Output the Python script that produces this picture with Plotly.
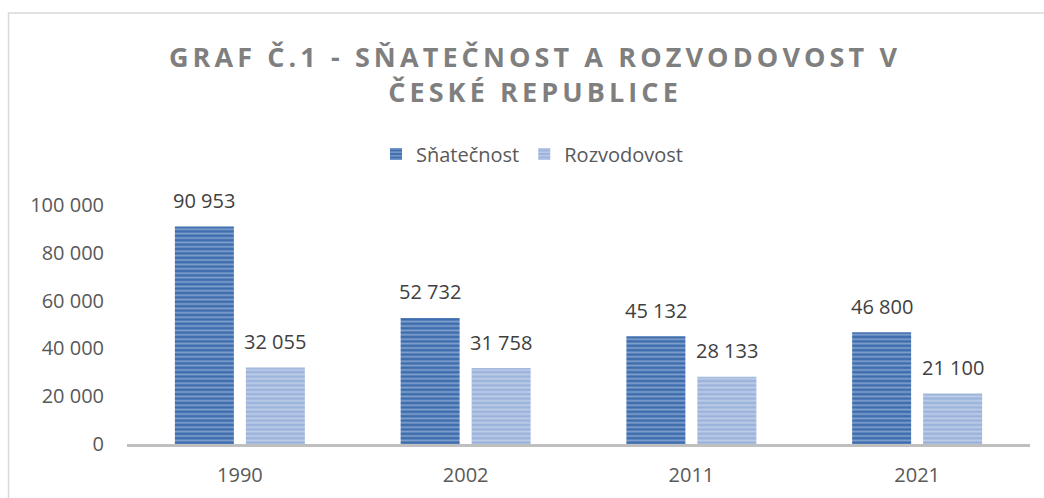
import plotly.graph_objects as go

years = ["1990", "2002", "2011", "2021"]
snatecnost = [90953, 52732, 45132, 46800]
rozvodovost = [32055, 31758, 28133, 21100]
series_names = ["Sňatečnost", "Rozvodovost"]
y_ticks = [0, 20000, 40000, 60000, 80000, 100000]

title_lines = ["GRAF Č.1 - SŇATEČNOST A ROZVODOVOST V", "ČESKÉ REPUBLICE"]

FONT = "Open Sans"
L, R, T, B = 127, 14, 205, 54
W, H = 1044, 498
pw = W - L - R
ph = H - T - B

BARGAP = 0.371
GROUPGAP = 0.169


def fmt(v):
    return f"{v:,}".replace(",", " ")


fig = go.Figure()
fig.add_trace(go.Bar(
    x=years, y=snatecnost, name=series_names[0],
    marker=dict(color="#3E6DAE", line=dict(width=0),
                pattern=dict(shape="-", size=4.4, solidity=0.4,
                             bgcolor="#3E6DAE", fgcolor="#C6D4EB")),
))
fig.add_trace(go.Bar(
    x=years, y=rozvodovost, name=series_names[1],
    marker=dict(color="#9CB3DC", line=dict(width=0),
                pattern=dict(shape="-", size=4.4, solidity=0.4,
                             bgcolor="#9CB3DC", fgcolor="#E0E7F4")),
))

# data labels, placed through the data axes (category serial numbers),
# shifted to each bar of the group
slot_px = (1 - BARGAP) * (pw / len(years)) / 2
for vals, sign in ((snatecnost, -1), (rozvodovost, 1)):
    for i, v in enumerate(vals):
        fig.add_annotation(x=i, y=v, xref="x", yref="y", text=fmt(v),
                           showarrow=False, xanchor="center", yanchor="middle",
                           xshift=sign * slot_px / 2, yshift=26,
                           font=dict(family=FONT, size=20, color="#404040"))

title_text = "<br>".join(
    f"<span style='letter-spacing:4.1px'>{t}</span>" for t in title_lines)

fig.update_layout(
    width=W, height=H,
    margin=dict(l=L, r=R, t=T, b=B, autoexpand=False),
    paper_bgcolor="white", plot_bgcolor="white",
    separators=", ",
    barmode="group", bargap=BARGAP, bargroupgap=GROUPGAP,
    title=dict(text=title_text, x=(535 - L) / pw, xref="paper", xanchor="center",
               y=1 - 67 / H, yref="container", yanchor="middle",
               font=dict(family=FONT, size=27, color="#7F7F7F", weight="bold")),
    legend=dict(orientation="h", x=(532 - L) / pw, xanchor="center",
                y=(H - B - 154) / ph, yanchor="middle",
                font=dict(family=FONT, size=20, color="#595959"),
                bgcolor="rgba(0,0,0,0)"),
    font=dict(family=FONT, color="#595959"),
    showlegend=True,
)
fig.update_xaxes(type="category", range=[-0.5, len(years) - 0.5],
                 automargin=False,
                 showgrid=False, showline=True,
                 linecolor="#BFBFBF", linewidth=2.5,
                 ticks="", tickfont=dict(family=FONT, size=20, color="#595959"),
                 ticklabelstandoff=11)
fig.update_yaxes(range=[0, 100000], tickvals=y_ticks, tickformat=",",
                 automargin=False,
                 showgrid=False, showline=False, zeroline=False, ticks="",
                 tickfont=dict(family=FONT, size=20, color="#595959"),
                 ticklabelstandoff=22)

# chart-area frame
fig.add_shape(type="rect", xref="paper", yref="paper",
              x0=(8.5 - L) / pw, x1=1.2, y0=-0.5, y1=(H - B - 13) / ph,
              line=dict(color="#D9D9D9", width=1.5), fillcolor="rgba(0,0,0,0)",
              layer="below")

fig.write_html("out.html", config={"displayModeBar": False},
               post_script="document.body.style.margin='0';document.body.style.overflow='hidden';")
